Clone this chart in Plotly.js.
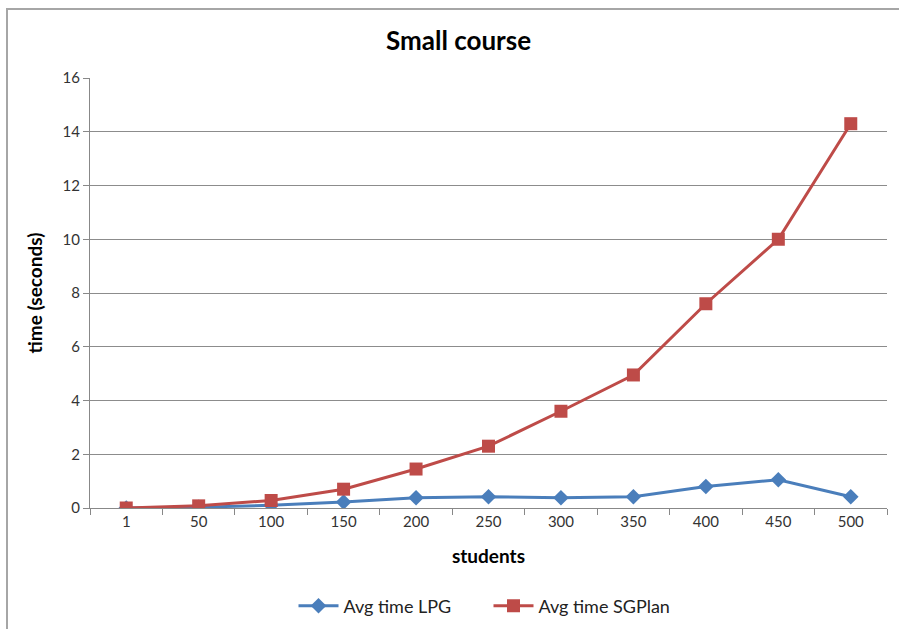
<!DOCTYPE html>
<html>
<head>
<meta charset="utf-8">
<script src="https://cdn.plot.ly/plotly-3.0.1.min.js"></script>
<style>
html,body{margin:0;padding:0;background:#fff;}
#wrap{position:relative;width:899px;height:629px;}
#chart{width:899px;height:629px;}
#frame{position:absolute;left:6px;top:8px;width:895px;height:640px;border:2px solid #a6a6a6;pointer-events:none;box-sizing:border-box;}
</style>
</head>
<body>
<div id="wrap">
<div id="chart"></div>
<div id="frame"></div>
</div>
<script>
const students = ["1","50","100","150","200","250","300","350","400","450","500"];
const lpgTime = [0.0, 0.03, 0.1, 0.22, 0.38, 0.42, 0.38, 0.42, 0.8, 1.05, 0.42];
const sgplanTime = [0.0, 0.08, 0.28, 0.7, 1.45, 2.3, 3.6, 4.95, 7.6, 10.0, 14.3];
const yTicks = [0, 2, 4, 6, 8, 10, 12, 14, 16];

const font = "Lato, 'Open Sans', sans-serif";

const traces = [
  {
    x: students, y: lpgTime, name: "Avg time LPG", type: "scatter", mode: "lines+markers",
    line: {color: "#4a7ebb", width: 3},
    marker: {symbol: "diamond", size: 12, color: "#4a7ebb"}
  },
  {
    x: students, y: sgplanTime, name: "Avg time SGPlan", type: "scatter", mode: "lines+markers",
    line: {color: "#be4b48", width: 3},
    marker: {symbol: "square", size: 13, color: "#be4b48"}
  }
];

const layout = {
  width: 899, height: 629,
  margin: {l: 90, r: 12, t: 78, b: 121, autoexpand: false},
  paper_bgcolor: "#fff", plot_bgcolor: "#fff",
  font: {family: font, color: "#333"},
  title: {text: "<b>Small course</b>", x: 0.51, xanchor: "center", y: 0.935, yanchor: "middle",
          font: {family: font, size: 26, color: "#000"}},
  showlegend: true,
  legend: {orientation: "h", x: 0.5, xanchor: "center", y: -0.185, yanchor: "top",
           font: {family: font, size: 18, color: "#222"}, traceorder: "normal",
           itemwidth: 40, entrywidth: 140},
  xaxis: {
    type: "category",
    range: [-0.5, 10.5],
    autorange: false,
    automargin: false,
    tickson: "boundaries",
    ticks: "outside", ticklen: 6, tickcolor: "#888",
    showline: true, linecolor: "#888", linewidth: 1,
    showgrid: false, zeroline: false,
    tickfont: {family: font, size: 15, color: "#333"},
    title: {text: "<b>students</b>", font: {family: font, size: 19, color: "#000"}, standoff: 20}
  },
  yaxis: {
    range: [0, 16],
    autorange: false,
    automargin: false,
    tickvals: yTicks,
    ticks: "outside", ticklen: 6, tickcolor: "#888",
    showline: true, linecolor: "#888", linewidth: 1,
    showgrid: true, gridcolor: "#8c8c8c", gridwidth: 1,
    zeroline: false,
    tickfont: {family: font, size: 15, color: "#333"},
    title: {text: "<b>time (seconds)</b>", font: {family: font, size: 19, color: "#000"}, standoff: 14}
  }
};

Plotly.newPlot("chart", traces, layout, {displayModeBar: false, staticPlot: true});
</script>
</body>
</html>
